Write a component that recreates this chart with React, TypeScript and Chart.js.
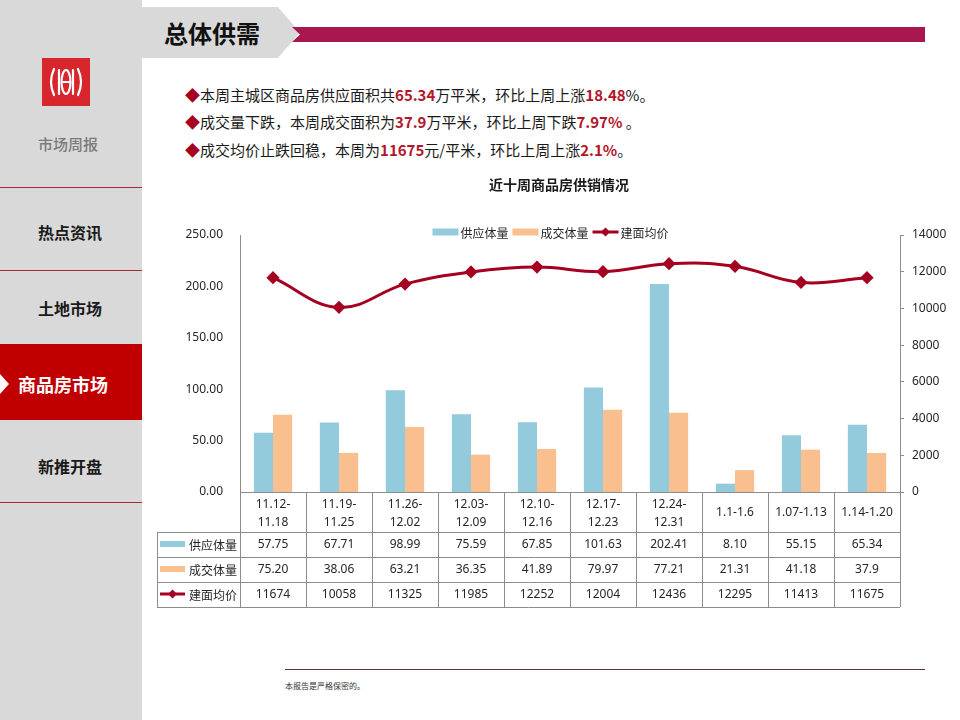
import React, { useEffect, useRef } from "react";
import { Chart, registerables } from "chart.js";

Chart.register(...registerables);

// ---------- data ----------
const categories = [
  "11.12-\n11.18",
  "11.19-\n11.25",
  "11.26-\n12.02",
  "12.03-\n12.09",
  "12.10-\n12.16",
  "12.17-\n12.23",
  "12.24-\n12.31",
  "1.1-1.6",
  "1.07-1.13",
  "1.14-1.20",
];
const supplyVolume = ["57.75", "67.71", "98.99", "75.59", "67.85", "101.63", "202.41", "8.10", "55.15", "65.34"];
const dealVolume = ["75.20", "38.06", "63.21", "36.35", "41.89", "79.97", "77.21", "21.31", "41.18", "37.9"];
const avgPrice = ["11674", "10058", "11325", "11985", "12252", "12004", "12436", "12295", "11413", "11675"];
const seriesNames = ["供应体量", "成交体量", "建面均价"];
const chartTitle = "近十周商品房供销情况";
const leftAxis = { min: 0, max: 250, step: 50 };
const rightAxis = { min: 0, max: 14000, step: 2000 };
const navItems = ["热点资讯", "土地市场", "商品房市场", "新推开盘"];

// ---------- styles ----------
const CJK = '"Noto Sans CJK SC", "Microsoft YaHei", sans-serif';
const NUM = '"Noto Sans", "Noto Sans CJK SC", sans-serif';
const SUPPLY = "#93cbdc";
const DEAL = "#f9bf8f";
const PRICE = "#a50021";
const GRID = "#8c8c8c";
const TEXT = "#262626";
const RED = "#b3152c";

function drawKey(ctx: CanvasRenderingContext2D, kind: string, color: string, x: number, y: number, w: number, h: number) {
  if (kind === "bar") {
    ctx.fillStyle = color;
    ctx.fillRect(x, y - h / 2, w, h);
  } else {
    ctx.strokeStyle = color;
    ctx.lineWidth = 3;
    ctx.beginPath();
    ctx.moveTo(x, y);
    ctx.lineTo(x + w, y);
    ctx.stroke();
    ctx.fillStyle = color;
    const cx = x + w / 2;
    ctx.beginPath();
    ctx.moveTo(cx, y - 4.5);
    ctx.lineTo(cx + 4.5, y);
    ctx.lineTo(cx, y + 4.5);
    ctx.lineTo(cx - 4.5, y);
    ctx.closePath();
    ctx.fill();
  }
}

const extrasPlugin = {
  id: "slideExtras",
  afterDraw(chart: any) {
    const ctx: CanvasRenderingContext2D = chart.ctx;
    const area = chart.chartArea;
    const xs = chart.scales.x;
    const n = categories.length;
    const colW = (area.right - area.left) / n;
    const cx = (area.left + area.right) / 2;
    const keys = [
      { label: seriesNames[0], kind: "bar", color: SUPPLY },
      { label: seriesNames[1], kind: "bar", color: DEAL },
      { label: seriesNames[2], kind: "line", color: PRICE },
    ];
    ctx.save();

    // title
    ctx.fillStyle = "#1a1a1a";
    ctx.font = "bold 14px " + CJK;
    ctx.textAlign = "center";
    ctx.textBaseline = "middle";
    ctx.fillText(chartTitle, cx - 11, 15);

    // legend
    ctx.font = "12px " + CJK;
    const keyW = 26;
    const gapKT = 2;
    const gapItems = 4;
    let total = 0;
    keys.forEach((k, i) => {
      total += keyW + gapKT + ctx.measureText(k.label).width + (i < keys.length - 1 ? gapItems : 0);
    });
    let lx = cx - 19.5 - total / 2;
    const ly = area.top - 3;
    keys.forEach((k) => {
      drawKey(ctx, k.kind, k.color, lx, ly, keyW, 7);
      lx += keyW + gapKT;
      ctx.fillStyle = TEXT;
      ctx.textAlign = "left";
      ctx.textBaseline = "middle";
      ctx.fillText(k.label, lx, ly + 1);
      lx += ctx.measureText(k.label).width + gapItems;
    });

    // data table
    const y0 = area.bottom;
    const rowsY = [y0 + 40, y0 + 65, y0 + 90, y0 + 115];
    const tableLeft = area.left - 83;
    const px = (v: number) => Math.round(v) + 0.5;
    ctx.strokeStyle = GRID;
    ctx.lineWidth = 1;
    ctx.beginPath();
    ctx.moveTo(area.left, px(y0));
    ctx.lineTo(area.right, px(y0));
    for (let i = 0; i <= n; i++) {
      const x = px(area.left + i * colW);
      ctx.moveTo(x, y0);
      ctx.lineTo(x, rowsY[3]);
    }
    ctx.moveTo(px(tableLeft), rowsY[0]);
    ctx.lineTo(px(tableLeft), rowsY[3]);
    rowsY.forEach((y) => {
      ctx.moveTo(tableLeft, px(y));
      ctx.lineTo(area.right, px(y));
    });
    ctx.stroke();

    // header labels
    ctx.fillStyle = TEXT;
    ctx.font = "12px " + NUM;
    ctx.textAlign = "center";
    ctx.textBaseline = "middle";
    categories.forEach((c, i) => {
      const x = xs.getPixelForValue(i);
      const parts = c.split("\n");
      if (parts.length === 2) {
        ctx.fillText(parts[0], x, y0 + 13);
        ctx.fillText(parts[1], x, y0 + 31);
      } else {
        ctx.fillText(parts[0], x, y0 + 21);
      }
    });

    // rows
    const rows = [supplyVolume, dealVolume, avgPrice];
    rows.forEach((vals, r) => {
      const yc = rowsY[r] + 13;
      vals.forEach((v, i) => {
        ctx.fillStyle = TEXT;
        ctx.font = "12px " + NUM;
        ctx.textAlign = "center";
        ctx.fillText(v, xs.getPixelForValue(i), yc);
      });
      drawKey(ctx, keys[r].kind, keys[r].color, tableLeft + 3, yc - 1, 25, 6);
      ctx.fillStyle = TEXT;
      ctx.font = "12px " + CJK;
      ctx.textAlign = "right";
      ctx.fillText(keys[r].label, area.left - 3, yc);
    });

    ctx.restore();
  },
};

function ChartBlock() {
  const ref = useRef<HTMLCanvasElement | null>(null);
  useEffect(() => {
    if (!ref.current) return;
    const tickFont = { family: NUM, size: 12 };
    const chart = new Chart(ref.current, {
      type: "bar",
      data: {
        labels: categories,
        datasets: [
          {
            type: "line",
            label: seriesNames[2],
            data: avgPrice.map(Number),
            yAxisID: "y1",
            borderColor: PRICE,
            backgroundColor: PRICE,
            borderWidth: 3,
            tension: 0.4,
            pointStyle: "rectRot",
            pointRadius: 4.5,
            pointBackgroundColor: PRICE,
            pointBorderColor: PRICE,
            order: 0,
          } as any,
          {
            type: "bar",
            label: seriesNames[0],
            data: supplyVolume.map(Number),
            yAxisID: "y",
            backgroundColor: SUPPLY,
            categoryPercentage: 0.58,
            barPercentage: 1,
            order: 1,
          },
          {
            type: "bar",
            label: seriesNames[1],
            data: dealVolume.map(Number),
            yAxisID: "y",
            backgroundColor: DEAL,
            categoryPercentage: 0.58,
            barPercentage: 1,
            order: 1,
          },
        ],
      },
      options: {
        responsive: false,
        animation: false,
        devicePixelRatio: 1,
        layout: { padding: { top: 65, bottom: 128, left: 0, right: 0 } },
        plugins: {
          legend: { display: false },
          title: { display: false },
          tooltip: { enabled: false },
        },
        scales: {
          x: { display: false, offset: true },
          y: {
            position: "left",
            min: leftAxis.min,
            max: leftAxis.max,
            ticks: {
              stepSize: leftAxis.step,
              callback: (v: any) => Number(v).toFixed(2),
              padding: 17,
              color: TEXT,
              font: tickFont,
            },
            grid: { display: false, drawTicks: false },
            border: { display: true, color: GRID, width: 1 },
            afterFit: (s: any) => {
              s.width = 90;
            },
          },
          y1: {
            position: "right",
            min: rightAxis.min,
            max: rightAxis.max,
            ticks: {
              stepSize: rightAxis.step,
              callback: (v: any) => String(v),
              padding: 8,
              color: TEXT,
              font: tickFont,
            },
            grid: { drawOnChartArea: false, drawTicks: true, tickLength: 4, color: GRID },
            border: { display: true, color: GRID, width: 1 },
            afterFit: (s: any) => {
              s.width = 50;
            },
          },
        },
      } as any,
      plugins: [extrasPlugin],
    });
    return () => chart.destroy();
  }, []);
  return (
    <canvas
      ref={ref}
      width={800}
      height={450}
      style={{ position: "absolute", left: 150, top: 170, width: 800, height: 450 }}
    />
  );
}

function Logo() {
  return (
    <svg width={48} height={48} style={{ position: "absolute", left: 42, top: 58 }}>
      <rect width={48} height={48} fill="#d7262c" />
      <g stroke="#fff" strokeWidth={2.2} fill="none" strokeLinecap="round">
        <path d="M12 11 Q6 24 12 37" />
        <path d="M36 11 Q42 24 36 37" />
        <path d="M17 12 L17 36" />
        <path d="M31 12 L31 36" />
        <ellipse cx={24} cy={24} rx={4.5} ry={12} />
        <path d="M20 24 L28 24" />
      </g>
    </svg>
  );
}

const red = (t: string) => <span style={{ color: RED, fontWeight: 700 }}>{t}</span>;

export default function App() {
  const navTops = [232, 308, 384, 466];
  return (
    <div
      style={{
        position: "absolute",
        left: 0,
        top: 0,
        width: 960,
        height: 720,
        background: "#ffffff",
        overflow: "hidden",
        fontFamily: CJK,
      }}
    >
      {/* sidebar */}
      <div style={{ position: "absolute", left: 0, top: 0, width: 142, height: 720, background: "#d9d9d9" }} />
      <Logo />
      <div
        style={{
          position: "absolute",
          left: 0,
          top: 134,
          width: 136,
          textAlign: "center",
          fontSize: 15,
          lineHeight: "20px",
          color: "#7a7a7a",
          fontWeight: 500,
        }}
      >
        市场周报
      </div>
      {[187, 270, 344, 502].map((y) => (
        <div key={y} style={{ position: "absolute", left: 0, top: y, width: 142, height: 1, background: "#a8283a" }} />
      ))}
      <div style={{ position: "absolute", left: 0, top: 344, width: 142, height: 76, background: "#c00000" }} />
      <div
        style={{
          position: "absolute",
          left: 0,
          top: 374,
          width: 9,
          height: 20,
          background: "#ffffff",
          clipPath: "polygon(0 0, 100% 50%, 0 100%)",
        }}
      />
      {navItems.map((t, i) =>
        i === 2 ? (
          <div
            key={t}
            style={{
              position: "absolute",
              left: 18,
              top: navTops[i] - 12,
              fontSize: 18,
              lineHeight: "24px",
              fontWeight: 700,
              color: "#ffffff",
              whiteSpace: "nowrap",
            }}
          >
            {t}
          </div>
        ) : (
          <div
            key={t}
            style={{
              position: "absolute",
              left: 0,
              top: navTops[i] - 11,
              width: 140,
              textAlign: "center",
              fontSize: 16,
              lineHeight: "22px",
              fontWeight: 700,
              color: "#1a1a1a",
            }}
          >
            {t}
          </div>
        )
      )}

      {/* title bar */}
      <div
        style={{
          position: "absolute",
          left: 142,
          top: 7,
          width: 158,
          height: 51,
          background: "#d9d9d9",
          clipPath: "polygon(0 0, 86% 0, 100% 50%, 86% 100%, 0 100%)",
        }}
      />
      <div
        style={{
          position: "absolute",
          left: 292,
          top: 27,
          width: 633,
          height: 15,
          background: "#a8174f",
          clipPath: "polygon(0 0, 100% 0, 100% 100%, 0 100%, 8px 50%)",
        }}
      />
      <div
        style={{
          position: "absolute",
          left: 164,
          top: 18,
          fontSize: 24,
          lineHeight: "30px",
          fontWeight: 700,
          color: "#111111",
          whiteSpace: "nowrap",
        }}
      >
        总体供需
      </div>

      {/* summary text */}
      {[
        <>
          本周主城区商品房供应面积共{red("65.34")}万平米，环比上周上涨{red("18.48")}%。
        </>,
        <>
          成交量下跌，本周成交面积为{red("37.9")}万平米，环比上周下跌{red("7.97%")} 。
        </>,
        <>
          成交均价止跌回稳，本周为{red("11675")}元/平米，环比上周上涨{red("2.1%")}。
        </>,
      ].map((content, i) => (
        <div
          key={i}
          style={{
            position: "absolute",
            left: 185,
            top: [95, 122, 150][i] - 10,
            fontSize: 15,
            lineHeight: "20px",
            color: "#1a1a1a",
            whiteSpace: "nowrap",
          }}
        >
          <span style={{ color: PRICE }}>◆</span>
          {content}
        </div>
      ))}

      <ChartBlock />

      {/* footer */}
      <div style={{ position: "absolute", left: 285, top: 669, width: 640, height: 1, background: "#5a3640" }} />
      <div
        style={{
          position: "absolute",
          left: 285,
          top: 680,
          fontSize: 8,
          lineHeight: "12px",
          color: "#333333",
          whiteSpace: "nowrap",
        }}
      >
        本报告是严格保密的。
      </div>
    </div>
  );
}
